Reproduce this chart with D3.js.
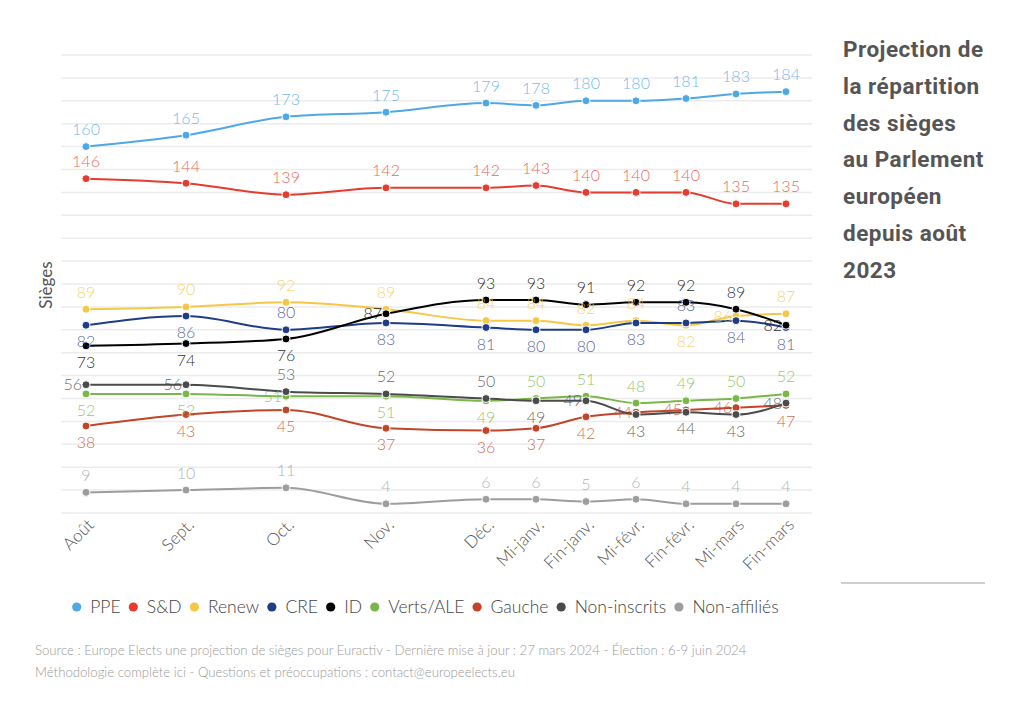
<!DOCTYPE html>
<html><head><meta charset="utf-8">
<script src="https://cdn.jsdelivr.net/npm/d3@7"></script>
<style>
body{margin:0;background:#fff;}
svg{display:block;font-family:Lato, "Open Sans", sans-serif;}
</style></head>
<body><svg id="c" width="1024" height="714"></svg>
<script>
// ---- data ----
const periods = ["Août","Sept.","Oct.","Nov.","Déc.","Mi-janv.","Fin-janv.","Mi-févr.","Fin-févr.","Mi-mars","Fin-mars"];
const periodMonths = [0,1,2,3,4,4.5,5,5.5,6,6.5,7]; // months since Aug 2023
const seriesNames = ["PPE","S&D","Renew","CRE","ID","Verts/ALE","Gauche","Non-inscrits","Non-affiliés"];
const PPE   = [160,165,173,175,179,178,180,180,181,183,184];
const SD    = [146,144,139,142,142,143,140,140,140,135,135];
const Renew = [89,90,92,89,84,84,82,84,82,86,87];
const CRE   = [82,86,80,83,81,80,80,83,83,84,81];
const ID    = [73,74,76,87,93,93,91,92,92,89,82];
const Verts = [52,52,51,51,49,50,51,48,49,50,52];
const Gauche= [38,43,45,37,36,37,42,44,45,46,47];
const NI    = [56,56,53,52,50,49,49,43,44,43,48];
const NA    = [9,10,11,4,6,6,5,6,4,4,4];
const seriesValues = [PPE,SD,Renew,CRE,ID,Verts,Gauche,NI,NA];
const yTicks = d3.range(0,201,10);

// ---- style / layout ----
const colors = ["#4ea8e6","#e63b2f","#f6c746","#1f3d85","#000000","#7ab648","#c2452a","#4b4b4b","#9d9d9d"];
// label placement per point: a = above, b = below, l = left
const labelPlace = [
 "aaaaaaaaaaa",
 "aaaaaaaaaaa",
 "aaaaaaaabla",
 "bbabbbbbabb",
 "bbblaaaaaal",
 "bblbbaaaaaa",
 "bbbbbbblllb",
 "llaaablbbbl",
 "aaaaaaaaaaa"
];

const svg = d3.select("#c");
const x = d3.scaleLinear().domain([0,7]).range([86,786]);
const y = d3.scaleLinear().domain([0,200]).range([513,55]);

// grid
svg.append("g").selectAll("line").data(yTicks).join("line")
  .attr("x1",61).attr("x2",812)
  .attr("y1",d=>y(d)).attr("y2",d=>y(d))
  .attr("stroke","#ececec").attr("stroke-width",1.5);

// x axis labels
svg.append("g").selectAll("text").data(periods).join("text")
  .attr("transform",(d,i)=>`translate(${x(periodMonths[i])+9},${526}) rotate(-45)`)
  .attr("text-anchor","end").attr("font-size",17).attr("fill","#555")
  .attr("font-weight",300)
  .text(d=>d);

// y label
svg.append("text").attr("transform","translate(52,285) rotate(-90)")
  .attr("text-anchor","middle").attr("font-size",17).attr("fill","#555").text("Sièges");

const line = d3.line().x((d,i)=>x(periodMonths[i])).y(d=>y(d)).curve(d3.curveMonotoneX);

const gs = svg.append("g");
seriesValues.forEach((vals,s)=>{
  const g = gs.append("g");
  g.append("path").datum(vals).attr("d",line).attr("fill","none")
    .attr("stroke",colors[s]).attr("stroke-width",2);
  g.selectAll("circle").data(vals).join("circle")
    .attr("cx",(d,i)=>x(periodMonths[i])).attr("cy",d=>y(d)).attr("r",4)
    .attr("fill",colors[s]).attr("stroke","#fff").attr("stroke-width",1);
});
const gl = svg.append("g");
seriesValues.forEach((vals,s)=>{
  gl.selectAll(null).data(vals).join("text")
    .attr("x",(d,i)=>{const p=labelPlace[s][i]; return x(periodMonths[i]) + (p==="l"?-4:0);})
    .attr("y",(d,i)=>{const p=labelPlace[s][i]; return y(d) + (p==="a"?-11.5:p==="b"?22:5.5);})
    .attr("text-anchor",(d,i)=>labelPlace[s][i]==="l"?"end":"middle")
    .attr("font-size",16).attr("font-weight",300)
    .attr("fill",colors[s]).attr("fill-opacity",s===4||s===7?0.85:0.8)
    .text(d=>d);
});

// title
const title = ["Projection de","la répartition","des sièges","au Parlement","européen","depuis août","2023"];
svg.append("g").selectAll("text").data(title).join("text")
  .attr("x",843).attr("y",(d,i)=>57+i*36.8)
  .attr("font-family","Roboto, sans-serif").attr("font-weight",700)
  .attr("font-size",22.5).attr("letter-spacing",0.5).attr("fill","#555").text(d=>d);
svg.append("line").attr("x1",841).attr("x2",985).attr("y1",583).attr("y2",583)
  .attr("stroke","#cfcfcf").attr("stroke-width",2);

// legend
const leg = svg.append("g");
let lx = 76.7;
seriesNames.forEach((n,s)=>{
  leg.append("circle").attr("cx",lx).attr("cy",607).attr("r",4.6).attr("fill",colors[s]);
  const t = leg.append("text").attr("x",lx+13.5).attr("y",613).attr("font-size",17.5)
    .attr("fill","#444").attr("font-weight",300).text(n);
  lx += 13.5 + t.node().getComputedTextLength() + 12.7;
});

// footer
svg.append("text").attr("x",35).attr("y",655).attr("font-size",13.2).attr("fill","#9a9a9a").attr("font-weight",300)
  .text("Source : Europe Elects une projection de sièges pour Euractiv - Dernière mise à jour : 27 mars 2024 - Élection : 6-9 juin 2024");
svg.append("text").attr("x",35).attr("y",677).attr("font-size",13.2).attr("fill","#9a9a9a").attr("font-weight",300)
  .text("Méthodologie complète ici - Questions et préoccupations : contact@europeelects.eu");
</script></body></html>
